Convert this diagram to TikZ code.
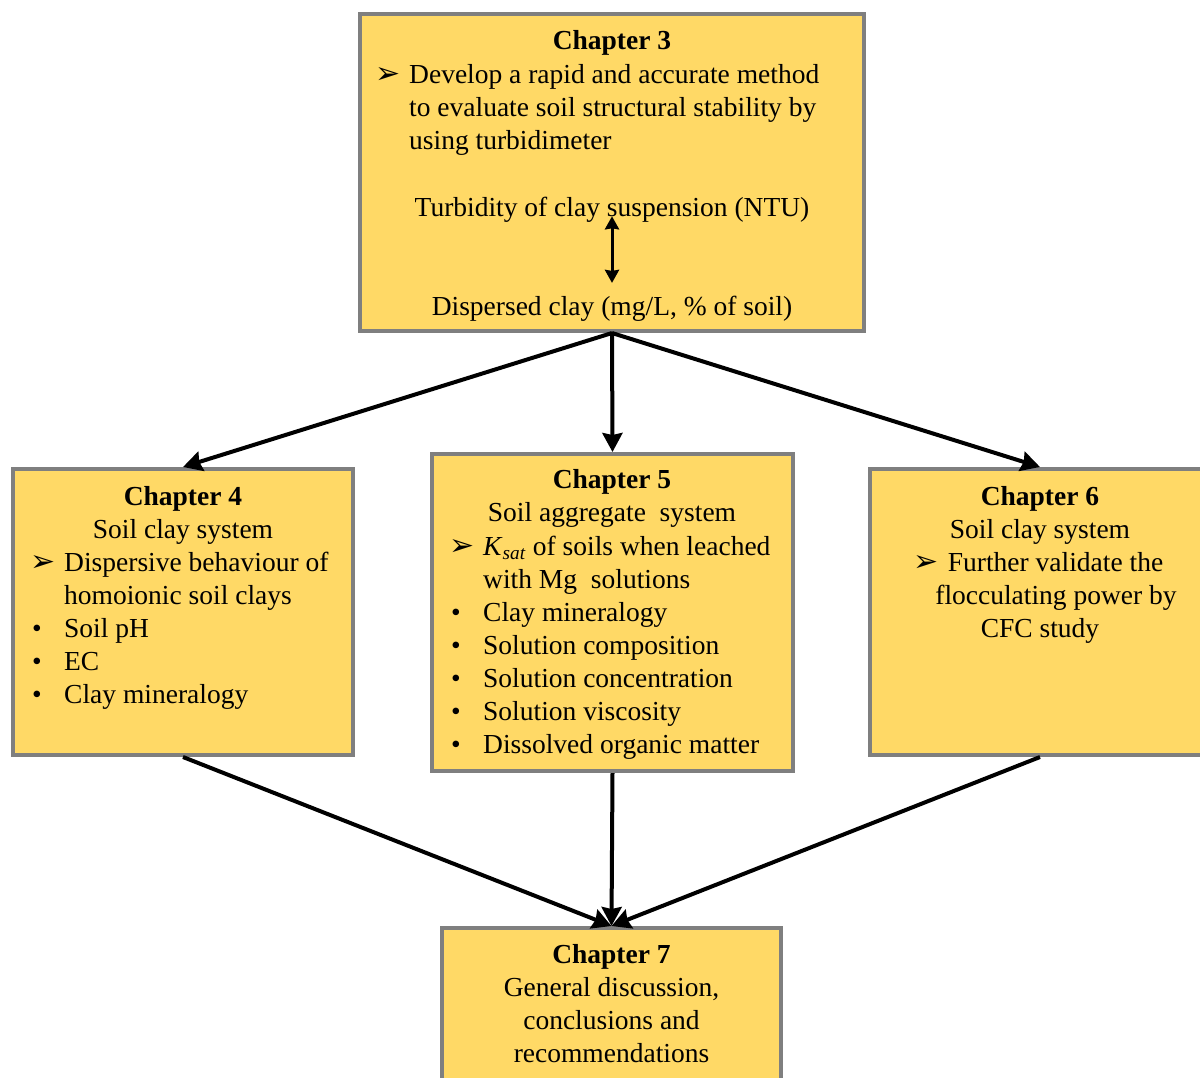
\documentclass[tikz,border=0pt]{standalone}
\usepackage{fontspec}
\setmainfont{Liberation Serif}
\newfontfamily\symfont{DejaVu Sans}
\usetikzlibrary{arrows.meta}

\definecolor{boxgold}{RGB}{255,217,102}
\definecolor{boxedge}{RGB}{127,127,127}

\newcommand{\arrbul}{\makebox[31pt][l]{\hspace*{-3pt}{\symfont\fontsize{30}{30}\selectfont ➢}}}
\newcommand{\dotbul}{\makebox[31pt][l]{\hspace*{-1pt}•}}
\newcommand{\indt}{\hspace*{31pt}}

\tikzset{
	chbox/.style={draw=boxedge, line width=4pt, fill=boxgold, inner sep=0pt},
	txt/.style={inner sep=0pt, font=\fontsize{27.5}{33}\selectfont, execute at begin node=\strut},
	ctxt/.style={txt, align=center, anchor=north},
	ltxt/.style={txt, align=left, anchor=north west},
	flow/.style={line width=4pt, -{Stealth[length=19pt,width=20pt,inset=2pt]}},
	link/.style={line width=3pt, {Stealth[length=13pt,width=14pt,inset=1pt]}-{Stealth[length=13pt,width=14pt,inset=1pt]}},
}

\begin{document}
\begin{tikzpicture}[x=1pt, y=-1pt]
	\useasboundingbox (0,0) rectangle (1200,1077);
	\clip (0,0) rectangle (1200,1077);
	
	% chapter boxes
	\node[chbox, minimum width=504pt, minimum height=317pt] (ch3) at (612,172.5) {};
	\node[chbox, minimum width=340pt, minimum height=286pt] (ch4) at (183,612) {};
	\node[chbox, minimum width=361pt, minimum height=317pt] (ch5) at (612.5,612.5) {};
	\node[chbox, minimum width=340pt, minimum height=286pt] (ch6) at (1040,612) {};
	\node[chbox, minimum width=339pt, minimum height=200pt] (ch7) at (611.5,1028) {};
	
	% chapter 3
	\node[ctxt] (t3) at (612,25.9) {\textbf{Chapter 3}};
	\node[ltxt] (l3) at (378,63.9) {\arrbul Develop a rapid and accurate method\\
		\indt to evaluate soil structural stability by\\
		\indt using turbidimeter};
	\node[ctxt] (tu) at (612,192.9) {Turbidity of clay suspension (NTU)};
	\node[ctxt] (dc) at (612,291.9) {Dispersed clay (mg/L, \% of soil)};
	\draw[link] ([yshift=10pt]tu.south) -- ([yshift=9pt]dc.north);
	
	% chapter 4
	\node[ctxt] (t4) at (183,485.9) {\textbf{Chapter 4}\\Soil clay system};
	\node[ltxt] (l4) at (33,551.9) {\arrbul Dispersive behaviour of\\
		\indt homoionic soil clays\\
		\dotbul Soil pH\\
		\dotbul EC\\
		\dotbul Clay mineralogy};
	
	% chapter 5
	\node[ctxt] (t5) at (612,468.9) {\textbf{Chapter 5}\\Soil aggregate\ \ system};
	\node[ltxt] (l5) at (452,535.9) {\arrbul \textit{K}\textsubscript{\textit{sat}} of soils when leached\\
		\indt with Mg\ \ solutions\\
		\dotbul Clay mineralogy\\
		\dotbul Solution composition\\
		\dotbul Solution concentration\\
		\dotbul Solution viscosity\\
		\dotbul Dissolved organic matter};
	
	% chapter 6
	\node[ctxt] (t6) at (1040,485.9) {\textbf{Chapter 6}\\Soil clay system};
	\node[ctxt] (l6) at (1040,551.9) {\arrbul Further validate the\\
		\hspace*{32pt}flocculating power by\\
		CFC study};
	
	% chapter 7
	\node[ctxt] (t7) at (611.5,943.9) {\textbf{Chapter 7}\\General discussion,\\conclusions and\\recommendations};
	
	% arrows
	\foreach \c in {ch4,ch5,ch6}
	{
		\draw[flow] (ch3.south) -- (\c.north);
		\draw[flow] (\c.south) -- (ch7.north);
	}
\end{tikzpicture}
\end{document}
